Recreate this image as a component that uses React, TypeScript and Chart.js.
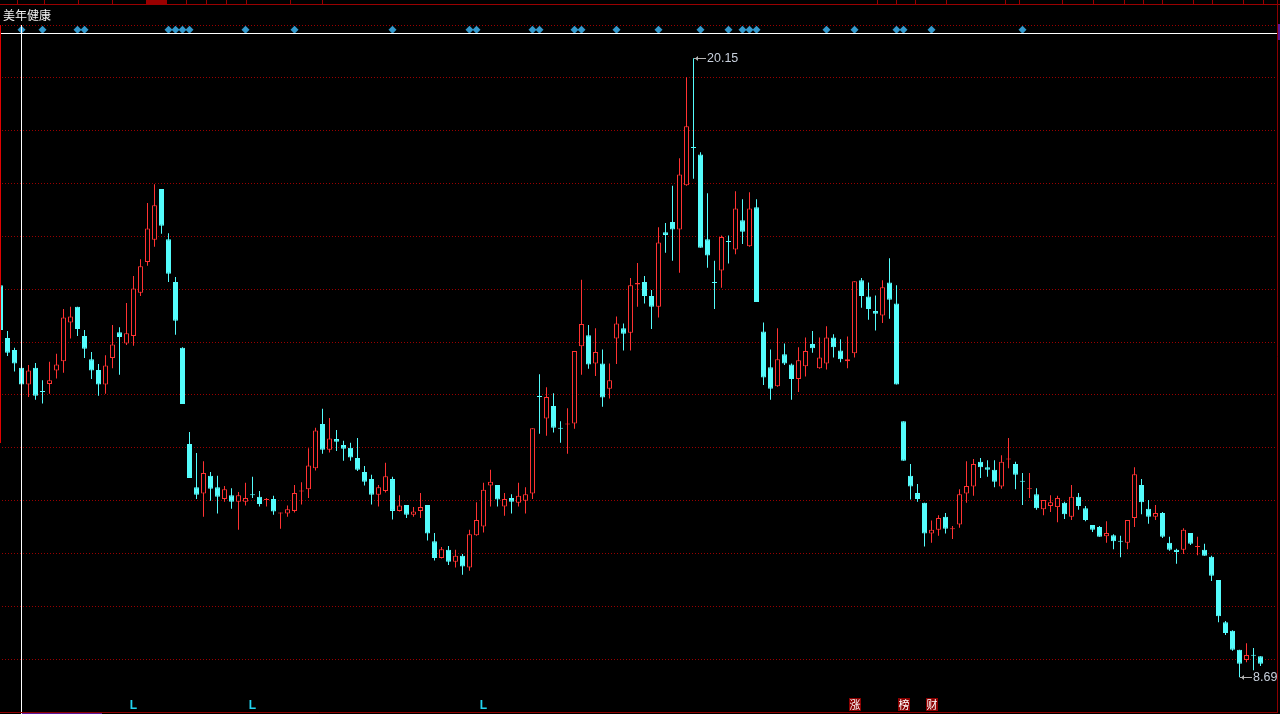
import React, { useEffect, useRef } from "react";
import { Chart, registerables } from "chart.js";

Chart.register(...registerables);

const TITLE = "美年健康";

const opens = [
  15.95, 14.97, 14.75, 14.42, 14.11, 14.42, 13.98, 14.12, 14.37, 14.54,
  15.26, 15.55, 15.01, 14.58, 14.38, 14.11, 14.60, 15.08, 14.87, 15.01,
  15.81, 16.38, 16.79, 17.73, 16.80, 16.01, 14.79, 13.01, 12.21, 12.09,
  12.42, 12.21, 11.99, 12.06, 11.94, 11.94, 12.07, 12.03, 11.97, 11.99,
  11.72, 11.72, 11.77, 12.13, 12.17, 12.56, 13.38, 12.90, 13.10, 12.99,
  12.94, 12.75, 12.49, 12.36, 12.07, 12.14, 12.36, 11.77, 11.88, 11.70,
  11.77, 11.88, 11.21, 10.90, 11.05, 10.83, 10.94, 10.72, 11.32, 11.48,
  12.24, 12.25, 11.85, 12.01, 11.92, 11.96, 12.09, 13.89, 13.48, 13.71,
  13.30, 13.37, 13.39, 14.82, 15.02, 14.50, 14.50, 14.03, 14.96, 15.15,
  15.07, 15.96, 16.01, 15.75, 15.55, 16.93, 17.12, 16.98, 17.80, 18.50,
  18.37, 16.80, 16.00, 16.22, 16.76, 16.61, 17.15, 16.67, 17.39, 15.09,
  14.43, 14.08, 14.67, 14.48, 14.21, 14.45, 14.86, 14.41, 14.50, 14.98,
  14.74, 14.54, 14.69, 16.04, 15.74, 15.47, 15.39, 16.00, 15.61, 13.43,
  12.42, 12.10, 11.92, 11.35, 11.42, 11.66, 11.43, 11.52, 12.09, 12.22,
  12.68, 12.58, 12.53, 12.22, 12.72, 12.64, 12.32, 12.17, 12.08, 11.80,
  11.86, 11.84, 11.92, 11.66, 12.03, 11.82, 11.51, 11.47, 11.30, 11.32,
  11.21, 11.18, 11.64, 12.25, 11.81, 11.66, 11.73, 11.18, 11.05, 11.05,
  11.36, 11.10, 11.05, 10.92, 10.49, 9.71, 9.55, 9.20, 9.01, 9.10, 9.08,
];

const highs = [
  16.05, 15.10, 14.79, 14.44, 14.47, 14.51, 14.19, 14.53, 14.68, 15.51,
  15.55, 15.55, 15.12, 14.71, 14.49, 14.65, 15.21, 15.17, 15.62, 16.12,
  16.43, 17.47, 17.82, 17.73, 16.91, 16.10, 14.80, 13.23, 12.84, 12.69,
  12.49, 12.42, 12.23, 12.19, 12.12, 12.29, 12.40, 12.14, 12.01, 12.05,
  11.74, 11.87, 12.25, 12.30, 12.93, 13.31, 13.66, 13.49, 13.27, 13.07,
  13.03, 13.12, 12.60, 12.44, 12.25, 12.66, 12.40, 12.06, 11.88, 11.84,
  12.10, 11.88, 11.36, 11.10, 11.12, 11.05, 10.97, 11.42, 11.93, 12.29,
  12.53, 12.25, 12.10, 12.08, 12.29, 12.21, 13.30, 14.30, 14.06, 13.95,
  13.43, 13.67, 14.73, 16.05, 15.21, 15.15, 14.76, 14.50, 15.37, 15.24,
  16.08, 16.36, 16.12, 15.86, 17.02, 17.10, 17.79, 18.30, 19.80, 20.15,
  18.41, 17.65, 16.40, 16.87, 16.87, 17.69, 17.54, 17.67, 17.54, 15.26,
  14.76, 15.15, 14.87, 14.50, 14.80, 14.98, 15.10, 14.98, 15.19, 15.04,
  14.95, 15.00, 16.02, 16.08, 16.00, 15.76, 16.04, 16.45, 15.95, 13.43,
  12.64, 12.27, 11.92, 11.59, 11.69, 11.73, 11.49, 12.17, 12.69, 12.73,
  12.75, 12.71, 12.71, 12.80, 13.12, 12.68, 12.47, 12.47, 12.19, 11.97,
  12.06, 12.05, 11.94, 12.25, 12.10, 11.86, 11.51, 11.49, 11.58, 11.34,
  11.31, 11.60, 12.58, 12.36, 11.97, 11.88, 11.75, 11.29, 11.07, 11.45,
  11.36, 11.29, 11.16, 10.94, 10.49, 9.73, 9.56, 9.20, 9.32, 9.23, 9.08,
];

const lows = [
  15.06, 14.64, 14.35, 13.98, 13.88, 13.83, 13.76, 13.94, 14.22, 14.33,
  14.96, 15.01, 14.60, 14.21, 13.90, 13.94, 14.41, 14.29, 14.84, 14.83,
  15.75, 16.31, 16.66, 16.90, 16.01, 15.03, 13.75, 12.38, 11.99, 11.66,
  11.96, 11.72, 11.94, 11.81, 11.42, 11.87, 12.01, 11.85, 11.85, 11.70,
  11.44, 11.66, 11.74, 11.89, 12.01, 12.52, 12.83, 12.85, 12.88, 12.70,
  12.70, 12.51, 12.24, 11.89, 11.85, 12.11, 11.61, 11.76, 11.64, 11.66,
  11.64, 11.22, 10.85, 10.89, 10.77, 10.72, 10.59, 10.66, 11.31, 11.37,
  11.85, 11.85, 11.68, 11.72, 11.85, 11.72, 11.99, 13.20, 13.16, 13.22,
  13.03, 12.83, 13.29, 14.29, 14.40, 14.27, 13.70, 13.85, 14.49, 14.74,
  14.74, 15.55, 15.61, 15.14, 15.35, 16.55, 16.40, 16.18, 17.79, 17.92,
  16.64, 16.27, 15.51, 15.90, 16.35, 16.52, 16.71, 16.66, 15.64, 14.10,
  13.83, 14.07, 14.47, 13.83, 13.97, 14.26, 14.70, 14.40, 14.39, 14.61,
  14.52, 14.41, 14.61, 15.53, 15.31, 15.11, 15.25, 15.33, 14.11, 12.70,
  11.98, 11.94, 11.11, 11.18, 11.31, 11.35, 11.25, 11.46, 11.92, 12.05,
  12.38, 12.40, 12.21, 12.18, 12.56, 12.17, 11.88, 12.01, 11.79, 11.69,
  11.75, 11.56, 11.62, 11.60, 11.79, 11.58, 11.38, 11.29, 11.18, 11.06,
  10.91, 11.06, 11.47, 11.71, 11.53, 11.60, 11.27, 11.03, 10.79, 10.97,
  11.14, 10.95, 10.94, 10.47, 9.71, 9.47, 9.18, 8.69, 8.97, 8.82, 8.90,
];

const closes = [
  15.12, 14.70, 14.50, 14.11, 14.37, 13.90, 13.97, 14.19, 14.48, 15.35,
  15.37, 15.14, 14.77, 14.37, 14.11, 14.46, 14.85, 14.99, 15.06, 15.89,
  16.30, 17.00, 17.43, 17.05, 16.16, 15.29, 13.75, 12.38, 12.07, 12.47,
  12.18, 12.03, 12.17, 11.94, 12.06, 12.01, 12.06, 11.90, 11.98, 11.76,
  11.74, 11.80, 12.10, 12.14, 12.61, 13.26, 12.90, 13.11, 13.05, 12.92,
  12.76, 12.53, 12.31, 12.07, 12.21, 12.41, 11.77, 11.87, 11.70, 11.76,
  11.84, 11.35, 10.90, 11.06, 10.83, 10.94, 10.74, 11.34, 11.60, 12.16,
  12.31, 11.98, 11.99, 11.94, 12.05, 12.08, 13.30, 13.88, 13.88, 13.31,
  13.29, 13.38, 14.73, 15.23, 14.48, 14.71, 13.87, 14.19, 15.24, 15.05,
  15.95, 15.99, 15.75, 15.55, 16.74, 16.88, 16.98, 18.00, 18.89, 18.49,
  16.64, 16.50, 15.99, 16.84, 16.75, 17.37, 16.94, 17.37, 15.64, 14.24,
  14.03, 14.58, 14.50, 14.21, 14.56, 14.73, 14.78, 14.61, 14.98, 14.80,
  14.58, 14.58, 16.02, 15.75, 15.51, 15.42, 15.91, 15.68, 14.11, 12.70,
  12.22, 11.99, 11.35, 11.42, 11.64, 11.44, 11.44, 12.08, 12.23, 12.64,
  12.58, 12.53, 12.31, 12.68, 12.74, 12.44, 12.31, 12.18, 11.82, 11.97,
  11.93, 12.01, 11.71, 12.03, 11.86, 11.60, 11.42, 11.29, 11.36, 11.21,
  11.20, 11.60, 12.45, 11.93, 11.66, 11.73, 11.29, 11.05, 11.01, 11.42,
  11.16, 11.11, 10.94, 10.57, 9.82, 9.51, 9.20, 8.94, 9.10, 9.09, 8.94,
];

// event diamonds (candle indices) on the top strip
const eventIdx = [3, 6, 11, 12, 24, 25, 26, 27, 35, 42, 56, 67, 68, 76, 77, 82, 83, 88, 94, 100, 104, 106, 107, 108, 118, 122, 128, 129, 133, 146];
const EVENT_LEVEL = 20.68;

// horizontal dotted grid levels
const gridLevels = [20.76, 19.8, 18.82, 17.84, 16.86, 15.88, 14.9, 13.93, 12.95, 11.97, 10.99, 10.01, 9.02];

// bottom markers
const lowMarkIdx = [19, 36, 69];
const lowMarkText = "L";
const badgeIdx = [122, 129, 133];
const badgeText = ["涨", "榜", "财"];

const cursorIdx = 3;

// top tab separators
const tabSeps = [17, 44, 78, 112, 146, 166, 186, 206, 226, 246, 290, 322, 877, 896, 915, 946, 1005, 1019, 1062, 1093, 1124, 1143, 1162, 1193, 1212, 1243, 1263];

const X_MIN = -0.5 / 7;
const X_MAX = X_MIN + 1280 / 7;
const Y_MAX = 21.2294;
const Y_MIN = 8.0096;

const RED = "#ff3232";
const CYAN = "#54fcfc";
const DARK_RED = "#8c0000";

const decorPlugin = {
  id: "decor",
  beforeDatasetsDraw(chart: any) {
    const { ctx } = chart;
    const ys = chart.scales.y;
    ctx.save();
    ctx.strokeStyle = "#9a0000";
    ctx.lineWidth = 1;
    ctx.setLineDash([1, 2]);
    gridLevels.forEach((v) => {
      const py = Math.round(ys.getPixelForValue(v)) + 0.5;
      ctx.beginPath();
      ctx.moveTo(2, py);
      ctx.lineTo(1276, py);
      ctx.stroke();
    });
    ctx.restore();
  },
  afterDatasetsDraw(chart: any) {
    const { ctx } = chart;
    const xs = chart.scales.x;
    const ys = chart.scales.y;
    ctx.save();
    ctx.setLineDash([]);
    ctx.lineWidth = 1;

    // top tab strip
    ctx.fillStyle = "#000";
    ctx.fillRect(0, 0, 1280, 5);
    ctx.fillStyle = "#9a0000";
    ctx.fillRect(146, 0, 20, 4);
    ctx.strokeStyle = "#9a0000";
    ctx.beginPath();
    ctx.moveTo(0, 4.5);
    ctx.lineTo(1280, 4.5);
    ctx.stroke();
    tabSeps.forEach((sx) => {
      ctx.beginPath();
      ctx.moveTo(sx + 0.5, 0);
      ctx.lineTo(sx + 0.5, 4);
      ctx.stroke();
    });

    // title
    ctx.fillStyle = "#f0f0f0";
    ctx.font = '12px "Noto Sans CJK SC"';
    ctx.textBaseline = "middle";
    ctx.textAlign = "left";
    ctx.fillText(TITLE, 3, 15.5);

    // white separator line and cursor line
    ctx.strokeStyle = "#ffffff";
    ctx.beginPath();
    ctx.moveTo(1, 33.5);
    ctx.lineTo(1277, 33.5);
    ctx.stroke();
    const cx = Math.floor(xs.getPixelForValue(cursorIdx)) + 0.5;
    ctx.beginPath();
    ctx.moveTo(cx, 25);
    ctx.lineTo(cx, 714);
    ctx.stroke();

    // left red edge
    ctx.strokeStyle = "#e00000";
    ctx.beginPath();
    ctx.moveTo(0.5, 25);
    ctx.lineTo(0.5, 443);
    ctx.stroke();

    // frame
    ctx.strokeStyle = DARK_RED;
    ctx.beginPath();
    ctx.moveTo(1277.5, 0);
    ctx.lineTo(1277.5, 712.5);
    ctx.moveTo(0, 712.5);
    ctx.lineTo(1278, 712.5);
    ctx.stroke();
    ctx.fillStyle = "#5a1a9a";
    ctx.fillRect(1278, 24, 2, 16);
    ctx.fillRect(22, 713, 80, 1);

    // price tags at max high and min low
    let hi = 0;
    let lo = 0;
    highs.forEach((v, i) => { if (v > highs[hi]) hi = i; });
    lows.forEach((v, i) => { if (v < lows[lo]) lo = i; });
    const tag = (idx: number, value: number) => {
      const x = Math.floor(xs.getPixelForValue(idx)) + 1;
      const y = Math.round(ys.getPixelForValue(value)) + 0.5;
      ctx.strokeStyle = "#b4b4b4";
      ctx.fillStyle = "#b4b4b4";
      ctx.beginPath();
      ctx.moveTo(x, y);
      ctx.lineTo(x + 12, y);
      ctx.stroke();
      ctx.beginPath();
      ctx.moveTo(x + 1, y);
      ctx.lineTo(x + 4, y - 2.5);
      ctx.lineTo(x + 4, y + 2.5);
      ctx.closePath();
      ctx.fill();
      ctx.fillStyle = "#c8d0dc";
      ctx.font = '12.5px "Liberation Sans"';
      ctx.textBaseline = "middle";
      ctx.fillText(value.toFixed(2), x + 13, y + 0.5);
    };
    tag(hi, highs[hi]);
    tag(lo, lows[lo]);

    // L markers
    ctx.fillStyle = "#22d4f0";
    ctx.font = 'bold 12px "Liberation Sans"';
    ctx.textBaseline = "alphabetic";
    ctx.textAlign = "center";
    lowMarkIdx.forEach((i) => {
      ctx.fillText(lowMarkText, xs.getPixelForValue(i), 709);
    });

    // badges
    badgeIdx.forEach((i, k) => {
      const bx = Math.round(xs.getPixelForValue(i));
      ctx.fillStyle = "#8a0000";
      ctx.fillRect(bx - 6, 698, 12, 13);
      ctx.fillStyle = "#ffffff";
      ctx.font = '11px "Noto Sans CJK SC"';
      ctx.textBaseline = "middle";
      ctx.textAlign = "center";
      ctx.fillText(badgeText[k], bx, 704.5);
    });

    ctx.restore();
  },
};

export default function App() {
  const ref = useRef<HTMLCanvasElement>(null);

  useEffect(() => {
    const idx = opens.map((_, i) => i);
    const up = idx.map((i) => closes[i] >= opens[i]);
    const chart = new Chart(ref.current as HTMLCanvasElement, {
      type: "bar",
      data: {
        datasets: [
          {
            type: "scatter",
            label: "events",
            data: eventIdx.map((i) => ({ x: i, y: EVENT_LEVEL })),
            pointStyle: "rectRot",
            pointRadius: 4,
            backgroundColor: "#3399cc",
            borderWidth: 0,
            order: 0,
          } as any,
          {
            label: "body",
            data: idx.map((i) => ({ x: i, y: [opens[i], closes[i]] })),
            backgroundColor: idx.map((i) => (up[i] ? "#000000" : CYAN)),
            borderColor: idx.map((i) => (up[i] ? RED : CYAN)),
            borderWidth: 1,
            borderSkipped: false,
            barThickness: 5,
            maxBarThickness: 5,
            minBarLength: 1,
            inflateAmount: 0,
            grouped: false,
            order: 1,
          } as any,
          {
            label: "wick",
            data: idx.map((i) => ({ x: i, y: [lows[i], highs[i]] })),
            backgroundColor: idx.map((i) => (up[i] ? RED : CYAN)),
            borderWidth: 0,
            barThickness: 1,
            maxBarThickness: 1,
            inflateAmount: 0,
            grouped: false,
            order: 2,
          } as any,
        ],
      },
      options: {
        responsive: false,
        animation: false,
        layout: { padding: 0, autoPadding: false },
        scales: {
          x: { type: "linear", min: X_MIN, max: X_MAX, display: false, offset: false },
          y: { type: "linear", min: Y_MIN, max: Y_MAX, display: false },
        },
        plugins: {
          legend: { display: false },
          tooltip: { enabled: false },
        },
      } as any,
      plugins: [decorPlugin],
    });
    return () => chart.destroy();
  }, []);

  return (
    <div style={{ position: "fixed", left: 0, top: 0, width: 1280, height: 714, background: "#000", overflow: "hidden" }}>
      <canvas ref={ref} width={1280} height={714} style={{ display: "block" }} />
    </div>
  );
}
